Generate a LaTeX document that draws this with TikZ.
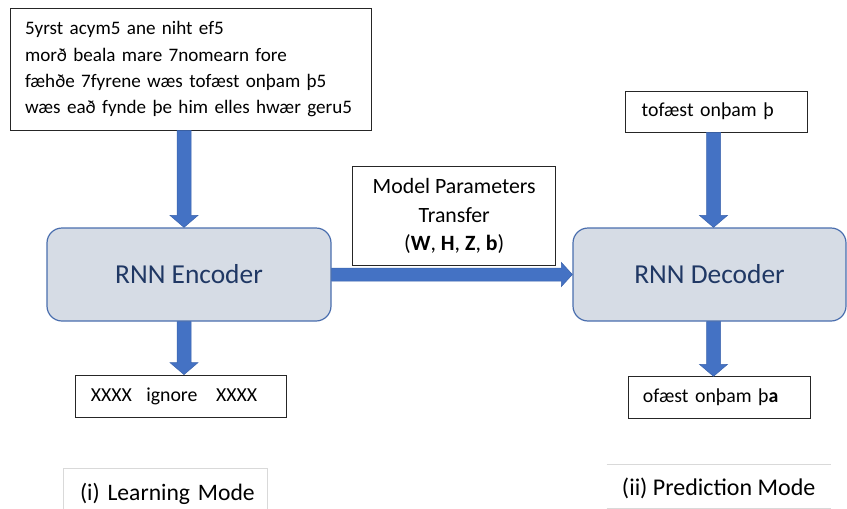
\documentclass[tikz,border=0pt]{standalone}
\usepackage{fontspec}
\setmainfont{Carlito}
\usetikzlibrary{calc}

\definecolor{arrowblue}{HTML}{4472C4}
\definecolor{arrowedge}{HTML}{3B64AD}
\definecolor{rnnfill}{HTML}{D6DCE5}
\definecolor{rnnedge}{HTML}{4A6EAE}
\definecolor{rnntext}{HTML}{203864}
\definecolor{capline}{HTML}{D9D9D9}

% vertical block arrow at x = #1 (pt) from node anchor #2 down to node anchor #3
\newcommand\blockdown[3]{%
  \path[blockarrow] let \p1=(#2), \p2=(#3) in
    (#1pt-7pt,\y1) -- (#1pt-7pt,\y2+12pt) -- (#1pt-14pt,\y2+12pt) -- (#1pt,\y2)
    -- (#1pt+14pt,\y2+12pt) -- (#1pt+7pt,\y2+12pt) -- (#1pt+7pt,\y1) -- cycle;}

\begin{document}
\begin{tikzpicture}[x=1pt,y=-1pt,
  textbox/.style={draw=black!85, line width=0.8pt, fill=white, inner ysep=0pt,
    align=left, font=\fontsize{19.8}{26.4}\selectfont},
  rnn/.style={draw=rnnedge, line width=1.2pt, fill=rnnfill, rounded corners=15pt,
    text=rnntext, font=\fontsize{27.4}{32}\selectfont, minimum height=93pt},
  blockarrow/.style={fill=arrowblue, draw=arrowedge, line width=0.5pt},
  caption/.style={font=\fontsize{23.6}{29}\selectfont, inner sep=0pt},
  capline/.style={draw=capline, line width=0.8pt}
]
\useasboundingbox (0,0) rectangle (847,509);

% ---- encoder side ----
\node[textbox, inner xsep=15pt, text width=331.5pt, minimum height=121.7pt,
  font=\fontsize{19.1}{26.3}\selectfont] (corpus) at (190.75,69.2)
  {\mbox{5yrst acym5 ane niht ef5}\\
   \mbox{morð beala mare 7nomearn fore}\\
   \mbox{fæhðe 7fyrene wæs tofæst onþam þ5}\\
   \mbox{wæs eað fynde þe him elles hwær geru5}};
\node[rnn, minimum width=284pt] (enc) at (189,274.5) {RNN Encoder};
\node[textbox, inner xsep=15.7pt, text width=180.3pt, minimum height=42pt] (ignore) at (181,396)
  {XXXX\hspace{14.3pt}ignore\hspace{18.7pt}XXXX};

% ---- parameter transfer ----
\node[textbox, align=center, inner xsep=0pt, minimum width=203pt, minimum height=98.6pt,
  font=\fontsize{21.8}{28.5}\selectfont] (params) at (454.2,216)
  {Model Parameters\\Transfer\\(\textbf{W}, \textbf{H}, \textbf{Z}, \textbf{b})};

% ---- decoder side ----
\node[textbox, inner xsep=16pt, text width=149.3pt, minimum height=41pt] (prompt) at (716.3,111.5)
  {tofæst onþam þ};
\node[rnn, minimum width=273pt] (dec) at (709.5,274.5) {RNN Decoder};
\node[textbox, inner xsep=15pt, text width=152.7pt, minimum height=41.3pt] (output) at (719.3,397.4)
  {ofæst onþam þ\textbf{a}};

% ---- connectors ----
\blockdown{184}{corpus.south}{enc.north}
\blockdown{184}{enc.south}{ignore.north}
\blockdown{713.5}{prompt.south}{dec.north}
\blockdown{713.5}{dec.south}{output.north}
\path[blockarrow] let \p1=(enc.east), \p2=(dec.west) in
  (\x1,\y1-6.5pt) -- (\x2-11pt,\y1-6.5pt) -- (\x2-11pt,\y1-12pt) -- (\x2,\y1)
  -- (\x2-11pt,\y1+12pt) -- (\x2-11pt,\y1+6.5pt) -- (\x1,\y1+6.5pt) -- cycle;

% ---- mode captions ----
\node[caption, minimum width=203pt, minimum height=42pt, inner xsep=16pt,
  text width=171pt, align=left, text height=25pt, text depth=4pt] (learn) at (165.5,489.5)
  {\mbox{(i) Learning Mode}};
\draw[capline] (learn.south west) -- (learn.north west) -- (learn.north east) -- (learn.south east);

\node[caption, font=\fontsize{24}{29}\selectfont, minimum width=224pt, minimum height=44pt,
  text height=20pt, text depth=2.6pt] (pred) at (718.7,486.3) {(ii) Prediction Mode};
\draw[capline] (pred.north west) -- (pred.north east);
\draw[capline] (pred.south west) -- (pred.south east);
\end{tikzpicture}
\end{document}
